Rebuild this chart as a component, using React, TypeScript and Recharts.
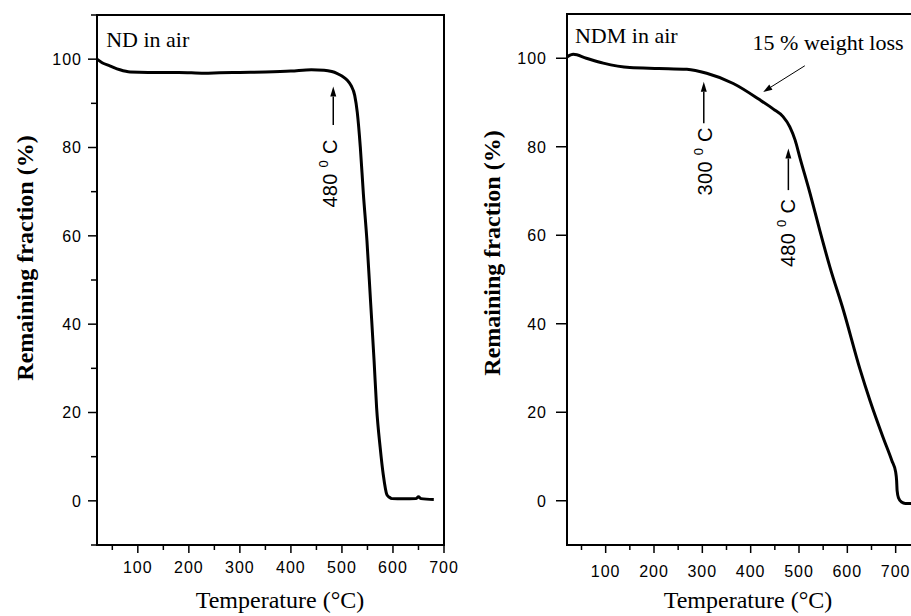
import { LineChart, Line, XAxis, YAxis, ReferenceArea, ReferenceLine, ReferenceDot } from 'recharts';

// ND in air (left panel)
const ndTemp = [20, 30, 45, 65, 85, 120, 180, 230, 260, 300, 350, 400, 440, 465, 480, 490, 500, 510, 518, 525, 530, 536, 542, 549, 556, 563, 568, 575, 581, 588, 593, 598, 620, 645, 650, 655, 680];
const ndMass = [100, 99.2, 98.5, 97.6, 97.1, 97.0, 97.0, 96.8, 96.9, 97.0, 97.1, 97.3, 97.6, 97.5, 97.2, 96.8, 96.2, 95.3, 94.0, 91.8, 88.0, 80.1, 69.5, 58.9, 45.3, 31.7, 21.0, 12.0, 5.9, 1.4, 0.8, 0.5, 0.45, 0.5, 0.9, 0.5, 0.3];

// NDM in air (right panel)
const ndmTemp = [20, 33, 60, 95, 150, 210, 268, 309, 364, 419, 447, 467, 481, 492, 502, 523, 543, 564, 592, 626, 647, 674, 692, 700, 702, 703, 706, 712, 720, 740];
const ndmMass = [100.3, 100.9, 100.0, 98.9, 97.9, 97.7, 97.5, 96.6, 94.3, 90.6, 88.5, 86.8, 84.5, 81.5, 77.5, 69.4, 61.1, 52.8, 43.0, 29.8, 22.6, 14.3, 9.1, 6.5, 4.5, 2.3, 0.6, -0.3, -0.6, -0.6];

const xTicks = [50, 100, 150, 200, 250, 300, 350, 400, 450, 500, 550, 600, 650, 700];
const yTicksNd = [-10, 0, 10, 20, 30, 40, 50, 60, 70, 80, 90, 100, 110];
const yTicksNdm = [0, 20, 40, 60, 80, 100];

const SERIF = '"Liberation Serif", "Times New Roman", serif';
const SANS = '"Liberation Sans", Arial, sans-serif';

const ndData = ndTemp.map((t, i) => ({ t, w: ndMass[i] }));
const ndmData = ndmTemp.map((t, i) => ({ t, w: ndmMass[i] }));

function makeXTick(labelDy: number) {
  return (props: any) => {
    const { x, y, payload } = props;
    const major = payload.value % 100 === 0;
    return (
      <g>
        <line x1={x} x2={x} y1={y} y2={y + (major ? 8 : 5)} stroke="#000" strokeWidth={1.5} />
        {major && (
          <text x={x} y={y + labelDy} textAnchor="middle" fontFamily={SANS} fontSize={16} letterSpacing={1} fill="#000">
            {payload.value}
          </text>
        )}
      </g>
    );
  };
}

function makeYTick(len: number, gap: number) {
  return (props: any) => {
    const { x, y, payload } = props;
    const v = payload.value;
    const major = v % 20 === 0 && v >= 0 && v <= 100;
    return (
      <g>
        <line x1={x - (major ? len : 6)} x2={x} y1={y} y2={y} stroke="#000" strokeWidth={1.5} />
        {major && (
          <text x={x - gap} y={y} dy="0.36em" textAnchor="end" fontFamily={SANS} fontSize={16} letterSpacing={1} fill="#000">
            {v}
          </text>
        )}
      </g>
    );
  };
}

// arrow drawn from segment start (tail) to end (tip)
function arrow(head: number, width: number, sw: number) {
  return (p: any) => {
    const { x1, y1, x2, y2 } = p;
    const len = Math.hypot(x2 - x1, y2 - y1) || 1;
    const ux = (x2 - x1) / len;
    const uy = (y2 - y1) / len;
    const bx = x2 - ux * head;
    const by = y2 - uy * head;
    const px = (-uy * width) / 2;
    const py = (ux * width) / 2;
    return (
      <g>
        <line x1={x1} y1={y1} x2={bx} y2={by} stroke="#000" strokeWidth={sw} />
        <polygon points={`${x2},${y2} ${bx + px},${by + py} ${bx - px},${by - py}`} fill="#000" />
      </g>
    );
  };
}

function plainText(text: string) {
  return (p: any) => (
    <text x={p.cx} y={p.cy} fontFamily={SERIF} fontSize={22} fill="#000">
      {text}
    </text>
  );
}

function tempText(num: string) {
  return (p: any) => (
    <text x={p.cx} y={p.cy} transform={`rotate(-90 ${p.cx} ${p.cy})`} fontFamily={SANS} fontSize={20} letterSpacing={0.3} fill="#000">
      {num + ' '}
      <tspan dy={-9} fontSize={13}>0</tspan>
      <tspan dy={9}>{' C'}</tspan>
    </text>
  );
}

function xLabel(dx: number, dy: number) {
  return (props: any) => {
    const vb = props.viewBox || { x: 0, y: 0 };
    return (
      <text x={vb.x + dx} y={vb.y + dy} textAnchor="middle" fontFamily={SERIF} fontSize={24} fill="#000">
        Temperature (°C)
      </text>
    );
  };
}

function yLabel(dx: number, dy: number) {
  return (props: any) => {
    const vb = props.viewBox || { x: 0, y: 0 };
    const cx = vb.x + dx;
    const cy = vb.y + dy;
    return (
      <text x={cx} y={cy} transform={`rotate(-90 ${cx} ${cy})`} textAnchor="middle" fontFamily={SERIF} fontWeight="bold" fontSize={24} fill="#000">
        Remaining fraction (%)
      </text>
    );
  };
}

export default function App() {
  return (
    <div style={{ position: 'absolute', left: 0, top: 0, width: 911, height: 616, overflow: 'hidden', background: '#fff' }}>
      {/* Left: ND in air */}
      <div style={{ position: 'absolute', left: 0, top: 0 }}>
        <LineChart width={460} height={616} data={ndData} margin={{ top: 15, right: 16, bottom: 31, left: 37 }}>
          <XAxis
            type="number"
            dataKey="t"
            domain={[20, 700]}
            ticks={xTicks}
            interval={0}
            tickSize={0}
            tickMargin={0}
            tickLine={false}
            axisLine={{ stroke: '#000', strokeWidth: 2 }}
            tick={makeXTick(28)}
            height={40}
            label={{ content: xLabel(183, 63) }}
          />
          <YAxis
            type="number"
            domain={[-10, 110]}
            ticks={yTicksNd}
            interval={0}
            tickSize={0}
            tickMargin={0}
            tickLine={false}
            axisLine={{ stroke: '#000', strokeWidth: 2 }}
            tick={makeYTick(9, 15)}
            width={60}
            label={{ content: yLabel(-4, 243) }}
          />
          <ReferenceArea x1={20} x2={700} y1={-10} y2={110} fill="none" stroke="#000" strokeWidth={2} />
          <Line type="monotone" dataKey="w" stroke="#000" strokeWidth={3} dot={false} isAnimationActive={false} />
          <ReferenceDot x={38} y={102.8} r={0} shape={plainText('ND in air')} />
          <ReferenceLine segment={[{ x: 483, y: 85.1 }, { x: 483, y: 93.8 }]} shape={arrow(10, 6, 1.5)} />
          <ReferenceDot x={490} y={66.4} r={0} shape={tempText('480')} />
        </LineChart>
      </div>

      {/* Right: NDM in air */}
      <div style={{ position: 'absolute', left: 460, top: 0 }}>
        <LineChart width={460} height={616} data={ndmData} margin={{ top: 14, right: 5, bottom: 31, left: 47 }}>
          <XAxis
            type="number"
            dataKey="t"
            domain={[20, 740]}
            ticks={xTicks}
            interval={0}
            tickSize={0}
            tickMargin={0}
            tickLine={false}
            axisLine={{ stroke: '#000', strokeWidth: 2 }}
            tick={makeXTick(32)}
            height={40}
            label={{ content: xLabel(181, 63) }}
          />
          <YAxis
            type="number"
            domain={[-10, 110]}
            ticks={yTicksNdm}
            interval={0}
            tickSize={0}
            tickMargin={0}
            tickLine={false}
            axisLine={{ stroke: '#000', strokeWidth: 2 }}
            tick={makeYTick(11, 20)}
            width={60}
            label={{ content: yLabel(-7, 239) }}
          />
          <ReferenceArea x1={20} x2={740} y1={-10} y2={110} fill="none" stroke="#000" strokeWidth={2} />
          <Line type="monotone" dataKey="w" stroke="#000" strokeWidth={3} dot={false} isAnimationActive={false} />
          <ReferenceDot x={36.5} y={103.5} r={0} shape={plainText('NDM in air')} />
          <ReferenceDot x={404} y={101.9} r={0} shape={plainText('15 % weight loss')} />
          <ReferenceLine segment={[{ x: 512, y: 98.3 }, { x: 426, y: 92.4 }]} shape={arrow(9, 6, 1)} />
          <ReferenceLine segment={[{ x: 303, y: 85.3 }, { x: 303, y: 94.7 }]} shape={arrow(10, 6, 1.5)} />
          <ReferenceDot x={320} y={69} r={0} shape={tempText('300')} />
          <ReferenceLine segment={[{ x: 478, y: 70.2 }, { x: 478, y: 79.6 }]} shape={arrow(10, 6, 1.5)} />
          <ReferenceDot x={491.7} y={52.8} r={0} shape={tempText('480')} />
        </LineChart>
      </div>
    </div>
  );
}
